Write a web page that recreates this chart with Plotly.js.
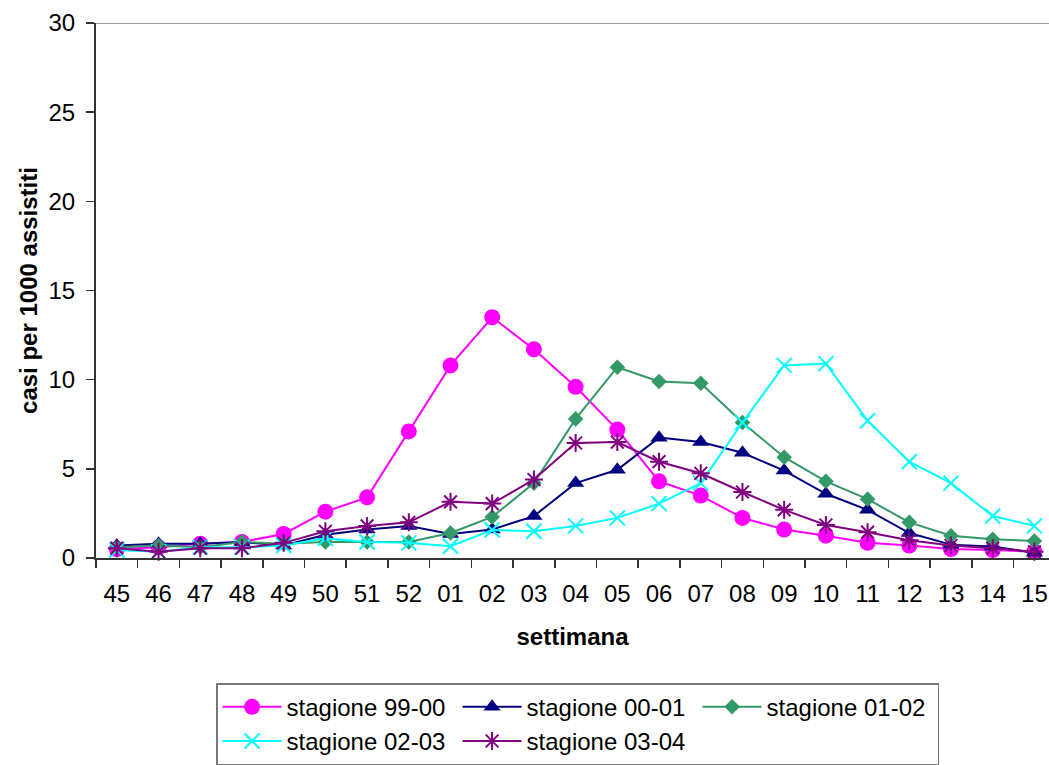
<!DOCTYPE html>
<html>
<head>
<meta charset="utf-8">
<script src="https://cdn.plot.ly/plotly-3.0.1.min.js"></script>
<style>html,body{margin:0;padding:0;background:#fff;}#chart{width:1049px;height:765px;}</style>
</head>
<body>
<div id="chart"></div>
<script>
const weeks = ["45","46","47","48","49","50","51","52","01","02","03","04","05","06","07","08","09","10","11","12","13","14","15"];
const s9900 = [0.5,0.6,0.8,0.9,1.35,2.6,3.4,7.1,10.8,13.5,11.7,9.6,7.2,4.3,3.5,2.25,1.6,1.25,0.85,0.7,0.5,0.45,0.35];
const s0001 = [0.7,0.8,0.8,0.9,0.7,1.3,1.6,1.8,1.35,1.6,2.35,4.2,4.95,6.75,6.5,5.9,4.9,3.6,2.7,1.4,0.75,0.65,0.3];
const s0102 = [0.6,0.7,0.6,0.9,0.8,0.9,0.9,0.9,1.4,2.3,4.2,7.8,10.7,9.9,9.8,7.6,5.65,4.3,3.3,2.0,1.25,1.05,0.95];
const s0203 = [0.45,0.35,0.6,0.6,0.7,1.1,0.9,0.85,0.66,1.57,1.5,1.8,2.25,3.05,4.2,7.6,10.8,10.9,7.7,5.4,4.2,2.35,1.8];
const s0304 = [0.55,0.35,0.55,0.55,0.85,1.5,1.8,2.0,3.15,3.05,4.4,6.45,6.5,5.4,4.75,3.7,2.7,1.85,1.45,1.0,0.7,0.55,0.35];
const seriesNames = ["stagione 99-00","stagione 00-01","stagione 01-02","stagione 02-03","stagione 03-04"];

const font = "Liberation Sans, Arial, sans-serif";
function tr(name, y, color, symbol, size, open) {
  return {
    type: "scatter", mode: "lines+markers", name: name, x: weeks, y: y,
    cliponaxis: false,
    line: {color: color, width: 2},
    marker: open ? {symbol: symbol, size: size, color: color, line: {color: color, width: 2}}
                 : {symbol: symbol, size: size, color: color, line: {width: 0}}
  };
}
const data = [
  tr(seriesNames[0], s9900, "#FF00FF", "circle", 16, false),
  tr(seriesNames[1], s0001, "#000080", "triangle-up", 15, false),
  tr(seriesNames[2], s0102, "#339966", "diamond", 12, false),
  tr(seriesNames[3], s0203, "#00FFFF", "x-thin-open", 15, true),
  tr(seriesNames[4], s0304, "#800080", "asterisk-open", 15, true)
];
const layout = {
  width: 1049, height: 765,
  margin: {l: 96, r: 0, t: 23, b: 207, autoexpand: false},
  paper_bgcolor: "#fff", plot_bgcolor: "#fff",
  font: {family: font, size: 24, color: "#000"},
  showlegend: true,
  xaxis: {
    type: "category", range: [-0.5, 22.35],
    tickson: "boundaries", ticks: "outside", ticklen: 8, tickwidth: 1.5, tickcolor: "#333",
    showline: true, linecolor: "#333", linewidth: 2, showgrid: false, zeroline: false,
    tickfont: {family: font, size: 24}, ticklabelstandoff: 13,
    title: {text: "<b>settimana</b>", font: {family: font, size: 24}, standoff: 22}
  },
  yaxis: {
    range: [0, 30], dtick: 5, ticks: "outside", ticklen: 8, tickwidth: 1.5, tickcolor: "#333",
    showline: true, linecolor: "#333", linewidth: 2, showgrid: false, zeroline: false,
    tickfont: {family: font, size: 24}, ticklabelstandoff: 6,
    title: {text: "<b>casi per 1000 assistiti</b>", font: {family: font, size: 24}}
  },
  shapes: [{type: "line", xref: "paper", yref: "y", x0: 0, x1: 1, y0: 30, y1: 30, line: {color: "#999", width: 2}}],
  legend: {
    orientation: "h", x: 0.126, xanchor: "left", y: -0.234, yanchor: "top",
    bordercolor: "#777", borderwidth: 1.5, bgcolor: "#fff",
    font: {family: font, size: 24}, entrywidthmode: "pixels", entrywidth: 166, itemwidth: 59,
    traceorder: "normal"
  }
};
Plotly.newPlot("chart", data, layout, {displayModeBar: false, staticPlot: true});
</script>
</body>
</html>
